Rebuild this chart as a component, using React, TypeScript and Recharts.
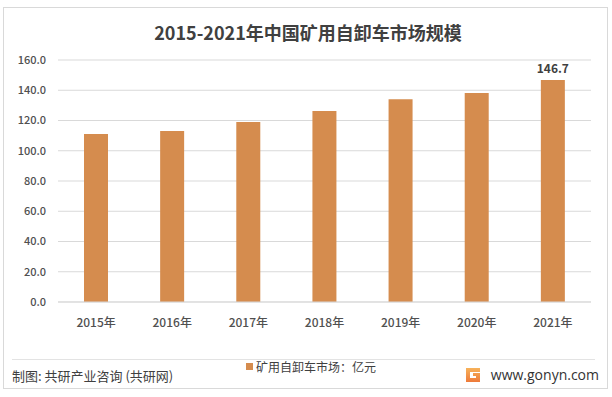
import { BarChart, Bar, XAxis, YAxis, CartesianGrid, LabelList } from 'recharts'

const years = ['2015年', '2016年', '2017年', '2018年', '2019年', '2020年', '2021年']
const marketSize = [111.0, 113.0, 119.0, 126.3, 134.0, 138.2, 146.7]
const yTicks = [0, 20, 40, 60, 80, 100, 120, 140, 160]

const data = years.map((year, i) => ({ year, value: marketSize[i] }))

const FONT = '"Noto Sans CJK SC", "Noto Sans", sans-serif'
const BAR_COLOR = '#D58C4E'

function TopLabel(props: any) {
  const { x, y, width, index, value } = props
  if (index !== data.length - 1) return null
  return (
    <text
      x={x + width / 2}
      y={y - 7}
      textAnchor="middle"
      fontSize={12}
      fontWeight={700}
      fill="#404040"
      fontFamily={FONT}
    >
      {Number(value).toFixed(1)}
    </text>
  )
}

export default function App() {
  return (
    <div
      style={{
        position: 'absolute',
        left: 0,
        top: 0,
        width: 612,
        height: 397,
        background: '#fff',
        fontFamily: FONT,
      }}
    >
      <div
        style={{
          position: 'absolute',
          left: 3,
          top: 7,
          width: 603,
          height: 380,
          border: '1px solid #d9d9d9',
        }}
      />
      <div
        style={{
          position: 'absolute',
          left: 0,
          top: 19,
          width: 616,
          textAlign: 'center',
          fontSize: 18,
          fontWeight: 700,
          color: '#404040',
        }}
      >
        2015-2021年中国矿用自卸车市场规模
      </div>

      <div style={{ position: 'absolute', left: 0, top: 0 }}>
        <BarChart
          width={612}
          height={397}
          data={data}
          margin={{ top: 60, right: 21, bottom: 65, left: 8 }}
        >
          <CartesianGrid vertical={false} stroke="#d9d9d9" />
          <XAxis
            dataKey="year"
            height={30}
            tickLine={false}
            axisLine={{ stroke: '#d9d9d9' }}
            tick={{ fontSize: 12, fill: '#505050', fontFamily: FONT, fontWeight: 500 }}
            tickMargin={10}
          />
          <YAxis
            width={50}
            domain={[0, 160]}
            ticks={yTicks}
            tickLine={false}
            axisLine={false}
            tickMargin={6}
            tickFormatter={(v: number) => v.toFixed(1)}
            tick={{ fontSize: 11, fill: '#505050', fontFamily: FONT, fontWeight: 500 }}
          />
          <Bar dataKey="value" fill={BAR_COLOR} barSize={24} isAnimationActive={false}>
            <LabelList dataKey="value" content={TopLabel} />
          </Bar>
        </BarChart>
      </div>

      <div
        style={{
          position: 'absolute',
          left: 12,
          top: 359,
          width: 583,
          height: 0,
          borderTop: '1px solid #e3e3e3',
        }}
      />
      <div
        style={{
          position: 'absolute',
          left: 12,
          top: 366,
          fontSize: 13,
          color: '#404040',
        }}
      >
        制图: 共研产业咨询 (共研网)
      </div>
      <div
        style={{
          position: 'absolute',
          left: 246,
          top: 358,
          fontSize: 12,
          color: '#404040',
          display: 'flex',
          alignItems: 'center',
        }}
      >
        <span
          style={{
            display: 'inline-block',
            width: 7,
            height: 7,
            background: BAR_COLOR,
            marginRight: 3,
          }}
        />
        矿用自卸车市场：亿元
      </div>
      <svg
        style={{ position: 'absolute', left: 466, top: 368 }}
        width={14}
        height={14}
        viewBox="0 0 14 14"
      >
        <defs>
          <linearGradient id="lg" x1="0" y1="0" x2="0" y2="1">
            <stop offset="0" stopColor="#F7B25A" />
            <stop offset="1" stopColor="#EE7A3A" />
          </linearGradient>
        </defs>
        <path d="M0 0 H14 V4 H4 V10 H10 V8 H7 V5 H14 V14 H0 Z" fill="url(#lg)" />
      </svg>
      <div
        style={{
          position: 'absolute',
          right: 13,
          top: 365,
          fontSize: 14,
          color: '#333',
          fontFamily: '"Open Sans", "Noto Sans", sans-serif',
        }}
      >
        www.gonyn.com
      </div>
    </div>
  )
}
